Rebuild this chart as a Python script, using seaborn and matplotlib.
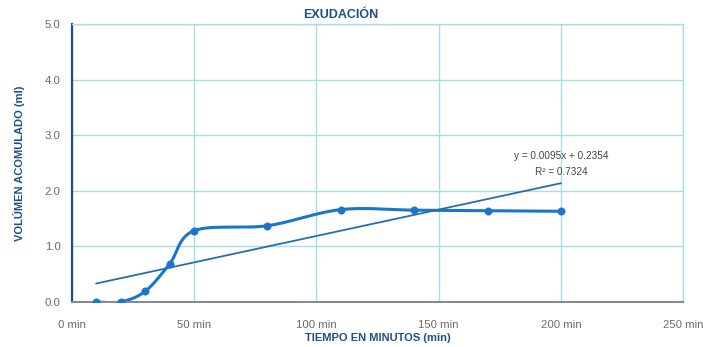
import numpy as np
import pandas as pd
import matplotlib
matplotlib.use("Agg")
import matplotlib.pyplot as plt
import seaborn as sns

# Measurements: accumulated exudation volume over time
tiempo_min = [10, 20, 30, 40, 50, 80, 110, 140, 170, 200]
volumen_ml = [0.0, 0.0, 0.19, 0.68, 1.28, 1.37, 1.66, 1.65, 1.64, 1.63]

# Linear trend reported on the chart
pendiente = 0.0095
intercepto = 0.2354
r2 = 0.7324

x_ticks = [0, 50, 100, 150, 200, 250]
x_tick_labels = ["0 min", "50 min", "100 min", "150 min", "200 min", "250 min"]
y_ticks = [0, 1, 2, 3, 4, 5]
y_tick_labels = ["0.0", "1.0", "2.0", "3.0", "4.0", "5.0"]

sns.set_theme(style="white")
plt.rcParams["font.family"] = ["Liberation Sans", "DejaVu Sans"]

LINE = "#1b75c9"
TREND = "#2b6ea6"
GRID = "#a9dbe9"
NAVY = "#1f4f86"
GRAY = "#6a6a6a"


def suavizar(x, y, n=30, tension=0.5):
    """Cardinal spline through the points, similar to a smoothed line chart."""
    x = np.asarray(x, float)
    y = np.asarray(y, float)
    px = np.concatenate([[x[0]], x, [x[-1]]])
    py = np.concatenate([[y[0]], y, [y[-1]]])
    xs, ys = [], []
    t = np.linspace(0, 1, n)
    for i in range(1, len(px) - 2):
        p0 = np.array([px[i], py[i]])
        p3 = np.array([px[i + 1], py[i + 1]])
        m1 = tension * (np.array([px[i + 1], py[i + 1]]) - np.array([px[i - 1], py[i - 1]]))
        m2 = tension * (np.array([px[i + 2], py[i + 2]]) - np.array([px[i], py[i]]))
        p1 = p0 + m1 / 3
        p2 = p3 - m2 / 3
        b = ((1 - t) ** 3)[:, None] * p0 + (3 * (1 - t) ** 2 * t)[:, None] * p1 \
            + (3 * (1 - t) * t ** 2)[:, None] * p2 + (t ** 3)[:, None] * p3
        xs.extend(b[:, 0])
        ys.extend(b[:, 1])
    return np.array(xs), np.array(ys)


df = pd.DataFrame({"tiempo": tiempo_min, "volumen": volumen_ml})
sx, sy = suavizar(tiempo_min, volumen_ml)
curva = pd.DataFrame({"tiempo": sx, "volumen": sy})

x_tr = np.array([tiempo_min[0], tiempo_min[-1]], float)
tendencia = pd.DataFrame({"tiempo": x_tr, "volumen": pendiente * x_tr + intercepto})

fig = plt.figure(figsize=(7.03, 3.47), dpi=100)
ax = fig.add_axes([0.102, 0.130, 0.870, 0.801])

sns.lineplot(data=curva, x="tiempo", y="volumen", ax=ax, color=LINE, lw=2.2,
             sort=False, estimator=None)
sns.scatterplot(data=df, x="tiempo", y="volumen", ax=ax, color=LINE, s=28,
                edgecolor=LINE, zorder=4)
sns.lineplot(data=tendencia, x="tiempo", y="volumen", ax=ax, color=TREND, lw=1.3,
             estimator=None)

ax.set_xlim(0, 250)
ax.set_ylim(0, 5)
ax.set_xticks(x_ticks)
ax.set_xticklabels(x_tick_labels)
ax.set_yticks(y_ticks)
ax.set_yticklabels(y_tick_labels)
ax.grid(True, color=GRID, lw=1.0)
ax.set_axisbelow(True)
ax.tick_params(axis="both", length=0, labelsize=8.2, colors=GRAY)
ax.tick_params(axis="x", pad=13)
ax.tick_params(axis="y", pad=8)

for s in ("top", "right"):
    ax.spines[s].set_color(GRID)
    ax.spines[s].set_linewidth(1.0)
ax.spines["left"].set_color(NAVY)
ax.spines["left"].set_linewidth(1.6)
ax.spines["bottom"].set_color("#7d8a99")
ax.spines["bottom"].set_linewidth(1.4)

ax.set_xlabel("TIEMPO EN MINUTOS (min)", color=NAVY, fontsize=8, fontweight="bold",
              labelpad=2)
ax.set_ylabel("VOLÚMEN ACOMULADO (ml)", color=NAVY, fontsize=8, fontweight="bold",
              labelpad=14)
ax.set_title("EXUDACIÓN", color=NAVY, fontsize=9, fontweight="bold", pad=4, x=0.44)

ax.text(200, 2.62, f"y = {pendiente}x + {intercepto}", ha="center", va="center",
        fontsize=7.2, color="#444444")
ax.text(200, 2.34, f"R² = {r2}", ha="center", va="center", fontsize=7.2,
        color="#444444")

fig.savefig("out.png", dpi=100, facecolor="white")
